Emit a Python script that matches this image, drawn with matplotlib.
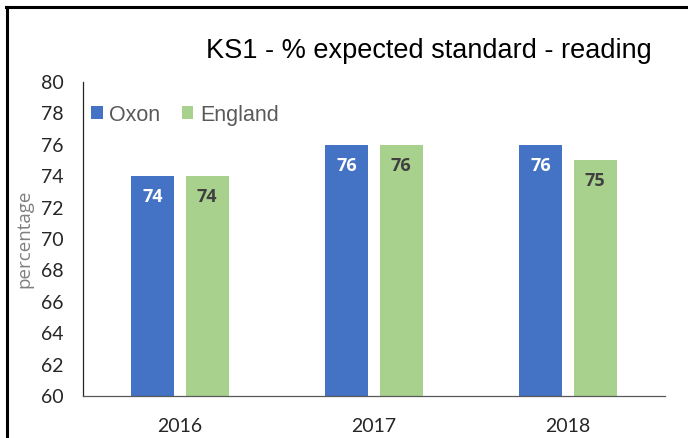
import matplotlib.pyplot as plt
from matplotlib.lines import Line2D
import numpy as np

years = ["2016", "2017", "2018"]
oxon = [74, 76, 76]
england = [74, 76, 75]

blue = "#4472C4"
green = "#A9D18E"

fig = plt.figure(figsize=(6.88, 4.38), dpi=100)
ax = fig.add_axes([0.1206, 0.0959, 0.8460, 0.7169])

x = np.arange(len(years))
w = 0.222
b1 = ax.bar(x - 0.14, oxon, w, color=blue, label="Oxon")
b2 = ax.bar(x + 0.14, england, w, color=green, label="England")

for rect, v in zip(b1, oxon):
    ax.annotate(str(v), (rect.get_x() + rect.get_width() / 2, v), xytext=(0, -15),
                textcoords="offset points", ha="center", va="center",
                color="white", fontsize=13, fontweight="bold", family="Open Sans")
for rect, v in zip(b2, england):
    ax.annotate(str(v), (rect.get_x() + rect.get_width() / 2, v), xytext=(0, -15),
                textcoords="offset points", ha="center", va="center",
                color="#404040", fontsize=13, fontweight="bold", family="Open Sans")

ax.set_xlim(-0.5, 2.5)
ax.set_ylim(60, 80)
ax.set_yticks(range(60, 81, 2))
ax.set_xticks(x)
ax.set_xticklabels(years)
ax.tick_params(axis="both", length=0, labelsize=14, labelcolor="#262626")
ax.tick_params(axis="x", pad=16)
ax.tick_params(axis="y", pad=14)
for lab in ax.get_xticklabels() + ax.get_yticklabels():
    lab.set_family("Lato")

for s in ["top", "right"]:
    ax.spines[s].set_visible(False)
ax.spines["left"].set_color("#262626")
ax.spines["bottom"].set_color("#595959")
ax.spines["left"].set_linewidth(0.9)
ax.spines["bottom"].set_linewidth(0.9)

ax.set_ylabel("percentage", color="#7f7f7f", fontsize=13.5, family="Open Sans")
ax.yaxis.set_label_coords(-0.085, 0.5)

leg = ax.legend(loc="upper left", bbox_to_anchor=(-0.02, 0.99), ncol=2, frameon=False,
                handlelength=0.55, handleheight=0.55, handletextpad=0.3, columnspacing=1.0,
                prop={"family": "Liberation Sans", "size": 15.5})
for t in leg.get_texts():
    t.set_color("#595959")

fig.text(0.623, 0.8676, "KS1 - % expected standard - reading", ha="center", va="baseline",
         fontsize=19.5, family="Liberation Sans", color="black")

# outer border of the chart frame
fig.add_artist(Line2D([0.008, 1.0], [0.985, 0.985], color="black", lw=2.2, transform=fig.transFigure))
fig.add_artist(Line2D([0.0095, 0.0095], [0.0, 0.985], color="black", lw=2.2, transform=fig.transFigure))

fig.savefig("out.png", dpi=100)
